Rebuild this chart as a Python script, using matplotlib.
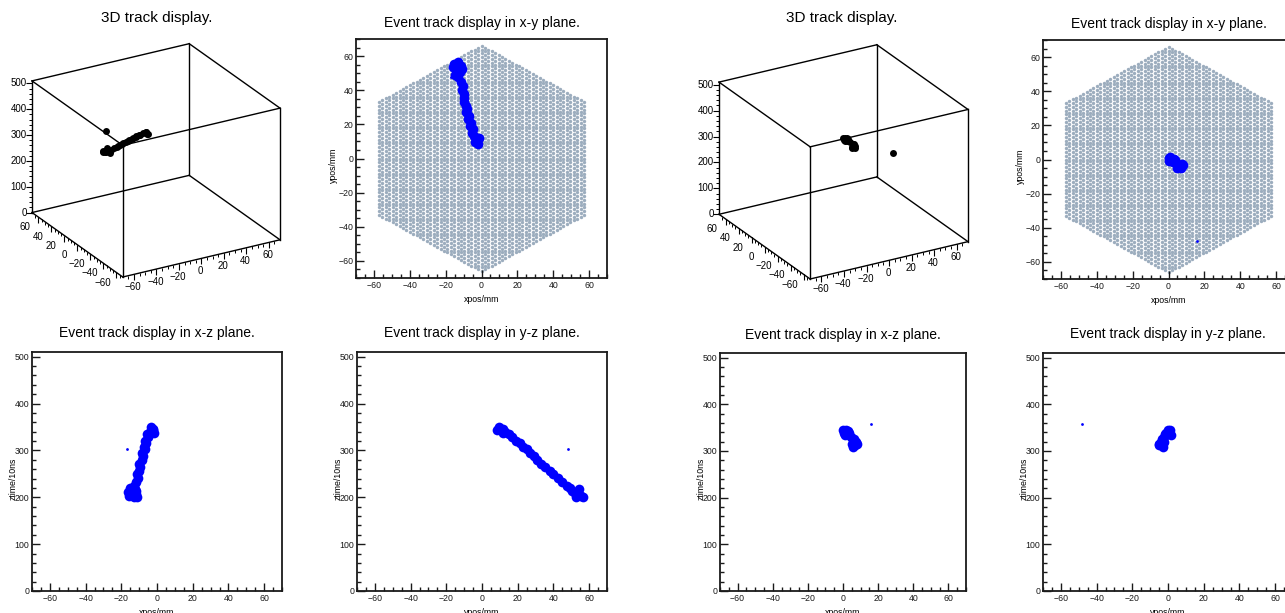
import numpy as np
import matplotlib
matplotlib.use('Agg')
import matplotlib.pyplot as plt
from matplotlib.ticker import MultipleLocator
from mpl_toolkits.mplot3d import proj3d

plt.rcParams['font.family'] = ['Liberation Sans', 'DejaVu Sans']

W, H = 1285, 613

# ---- event 1: hits (x mm, y mm, z time/10ns) ----
ev1_x = [-15.5, -13.0, -11.5, -14.5, -12.0, -15.0, -13.0, -11.0, -16.0, -12.5,
         -11.5, -10.5, -11.0, -10.0, -9.5, -10.0, -8.5, -8.0, -8.5, -7.0,
         -7.5, -6.0, -6.5, -5.0, -5.5, -4.0, -2.5, -3.5, -2.0, -1.5]
ev1_y = [55.5, 56.5, 54.0, 52.0, 50.5, 49.0, 47.5, 52.5, 53.5, 54.5,
         45.0, 42.5, 40.0, 38.0, 35.5, 33.0, 31.0, 29.0, 27.0, 25.0,
         23.0, 21.0, 19.0, 17.0, 15.0, 13.0, 11.5, 9.5, 8.5, 12.0]
ev1_z = [203, 200, 206, 210, 214, 219, 224, 201, 212, 218,
         233, 241, 249, 256, 264, 272, 280, 288, 294, 302,
         308, 315, 321, 328, 334, 340, 346, 350, 344, 338]
ev1_noise_x = [-17.0]
ev1_noise_y = [48.0]
ev1_noise_z = [302]

# ---- event 2 ----
ev2_x = [0.0, 1.5, 3.0, 0.5, 2.5, 1.0, 3.5, 4.5, 6.0, 7.5, 5.0, 7.0, 8.0, 5.5, 6.5]
ev2_y = [1.0, 0.0, 0.5, -1.0, -1.5, 1.5, -0.5, -2.5, -3.5, -2.5, -5.0, -5.0, -3.5, -3.0, -4.0]
ev2_z = [344, 346, 342, 338, 336, 334, 339, 330, 325, 320, 316, 312, 316, 309, 320]
ev2_noise_x = [16.0]
ev2_noise_y = [-48.0]
ev2_noise_z = [358]

# detector geometry (hexagonal pixel plane)
HEX_R = 67.0
PIX_PITCH = 2.2
XLIM = (-70, 70)
ZLIM = (0, 510)

# hexagonal pixel lattice, columns vertical
dx = PIX_PITCH * np.sqrt(3) / 2
pix = []
for i in range(-40, 41):
    for j in range(-40, 41):
        px = i * dx
        py = (j + 0.5 * (i % 2)) * PIX_PITCH
        if abs(px) <= HEX_R * np.cos(np.pi / 6) + 0.1 and abs(py) <= HEX_R - abs(px) * np.tan(np.pi / 6):
            pix.append((px, py))
pix = np.array(pix)

fig = plt.figure(figsize=(W / 100, H / 100), dpi=100)


def px_rect(left, top, right, bottom):
    return [left / W, (H - bottom) / H, (right - left) / W, (bottom - top) / H]


def minus(v):
    return str(v).replace('-', '\u2212')


def frame2d(rect, xlab, ylab, title, zplot, title_off=0.066):
    ax = fig.add_axes(rect)
    ax.set_xlim(*XLIM)
    ax.xaxis.set_major_locator(MultipleLocator(20))
    ax.xaxis.set_minor_locator(MultipleLocator(5))
    if zplot:
        ax.set_ylim(*ZLIM)
        ax.yaxis.set_major_locator(MultipleLocator(100))
        ax.yaxis.set_minor_locator(MultipleLocator(20))
    else:
        ax.set_ylim(*XLIM)
        ax.yaxis.set_major_locator(MultipleLocator(20))
        ax.yaxis.set_minor_locator(MultipleLocator(5))
    ax.tick_params(which='both', direction='in', top=False, right=False,
                   labelsize=6.3, pad=2, width=1.0, colors='#1a1a1a')
    ax.tick_params(which='major', length=5.5)
    ax.tick_params(which='minor', length=3)
    for s in ax.spines.values():
        s.set_linewidth(1.3)
        s.set_color('#1a1a1a')
    ax.set_xlabel(xlab, fontsize=6.3)
    ax.set_ylabel(ylab, fontsize=6.3)
    ax.xaxis.set_label_coords(0.5, -0.07)
    ax.yaxis.set_label_coords(-0.072 if not zplot else -0.058, 0.47)
    ax.text(0.5, 1 + title_off, title, transform=ax.transAxes,
            ha='center', va='center', fontsize=10)
    return ax


def plane(ax, a, b, na, nb, show_pixels):
    if show_pixels:
        ax.scatter(pix[:, 0], pix[:, 1], s=6, color='#9cadbe', linewidths=0)
    ax.plot(a, b, 'o', color='#0000ff', ms=7, mew=0)
    ax.plot(na, nb, 'o', color='#0000ff', ms=2, mew=0)


ELEV, AZIM, Z_ASPECT = 24.2, -120, 0.795


def draw3d(cx, cy, left_x, right_x, front_y, xs, ys, zs):
    side = 320
    ax = fig.add_axes(px_rect(cx - side / 2, cy - side / 2, cx + side / 2, cy + side / 2),
                      projection='3d', computed_zorder=False)
    ax.set_proj_type('ortho')
    ax.view_init(elev=ELEV, azim=AZIM)
    ax.set_box_aspect((1, 1, Z_ASPECT))
    ax.set_xlim(*XLIM)
    ax.set_ylim(*XLIM)
    ax.set_zlim(*ZLIM)
    ax.set_axis_off()
    ax.set_facecolor('none')
    x0, x1 = XLIM
    z0, z1 = ZLIM
    corners = [(x, y, z) for x in (x0, x1) for y in (x0, x1) for z in (z0, z1)]
    for p in corners:
        for q in corners:
            if p < q and sum(a != b for a, b in zip(p, q)) == 1:
                ax.plot(*zip(p, q), color='k', lw=1.0)
    # z axis on the left vertical edge
    zmaj = np.arange(0, 501, 100)
    zmin = np.arange(0, 511, 20)
    ax.plot([x0] * len(zmin), [x1] * len(zmin), zmin, ls='none', marker=0, ms=2.2, mew=0.7, color='k')
    ax.plot([x0] * len(zmaj), [x1] * len(zmaj), zmaj, ls='none', marker=0, ms=4.5, mew=0.8, color='k')
    for z in zmaj:
        ax.text(x0 - 3.5, x1 + 2, z, str(z), ha='right', va='center', fontsize=7)
    # x and y axes on the lower front edges
    tmaj = np.arange(-60, 61, 20)
    tmin = np.arange(-65, 66, 5)
    ax.plot([x0] * len(tmin), tmin, [z0] * len(tmin), ls='none', marker=3, ms=2.2, mew=0.7, color='k')
    ax.plot([x0] * len(tmaj), tmaj, [z0] * len(tmaj), ls='none', marker=3, ms=4.5, mew=0.8, color='k')
    ax.plot(tmin, [x0] * len(tmin), [z0] * len(tmin), ls='none', marker=3, ms=2.2, mew=0.7, color='k')
    ax.plot(tmaj, [x0] * len(tmaj), [z0] * len(tmaj), ls='none', marker=3, ms=4.5, mew=0.8, color='k')
    for t in tmaj:
        ax.text(x0 - 12, t, z0 - 27, minus(t), ha='center', va='center', fontsize=7)
        ax.text(t - 3, x0 - 4, z0 - 40, minus(t), ha='center', va='center', fontsize=7)
    ax.plot(xs, ys, zs, 'o', color='k', ms=5, mew=0)

    # place the projected box where it sits in the picture
    for _ in range(2):
        fig.canvas.draw()
        px_, py_, _ = proj3d.proj_transform(np.array([x0, x1, x0]), np.array([x1, x0, x0]),
                                            np.array([z0, z0, z0]), ax.M)
        pts = ax.transData.transform(np.column_stack([px_, py_]))
        s = (right_x - left_x) / (pts[1, 0] - pts[0, 0])
        bb = ax.get_position()
        cxf = (bb.x0 + bb.width / 2) * W
        cyf = (bb.y0 + bb.height / 2) * H
        ax_new = cxf + s * (pts[0, 0] - cxf)
        fy_new = cyf + s * (pts[2, 1] - cyf)
        cxf += left_x - ax_new
        cyf += (H - front_y) - fy_new
        w = bb.width * W * s
        h = bb.height * H * s
        ax.set_position([(cxf - w / 2) / W, (cyf - h / 2) / H, w / W, h / H])
    return ax


# ---- event 1 ----
draw3d(157, 160, 32, 280, 277,
       ev1_x + ev1_noise_x, ev1_y + ev1_noise_y, ev1_z + ev1_noise_z)
fig.text(157 / W, 1 - 18 / H, '3D track display.', ha='center', va='center', fontsize=11)

ax = frame2d(px_rect(356, 39, 607, 278), 'xpos/mm', 'ypos/mm', 'Event track display in x-y plane.', False)
plane(ax, ev1_x, ev1_y, ev1_noise_x, ev1_noise_y, True)

ax = frame2d(px_rect(32, 352, 282, 591), 'xpos/mm', 'ztime/10ns', 'Event track display in x-z plane.', True, 0.078)
plane(ax, ev1_x, ev1_z, ev1_noise_x, ev1_noise_z, False)

ax = frame2d(px_rect(357, 352, 607, 591), 'ypos/mm', 'ztime/10ns', 'Event track display in y-z plane.', True, 0.078)
plane(ax, ev1_y, ev1_z, ev1_noise_y, ev1_noise_z, False)

# ---- event 2 ----
draw3d(844, 160, 719, 968, 279,
       ev2_x + ev2_noise_x, ev2_y + ev2_noise_y, ev2_z + ev2_noise_z)
fig.text(842 / W, 1 - 18 / H, '3D track display.', ha='center', va='center', fontsize=11)

ax = frame2d(px_rect(1043, 40, 1294, 279), 'xpos/mm', 'ypos/mm', 'Event track display in x-y plane.', False)
plane(ax, ev2_x, ev2_y, ev2_noise_x, ev2_noise_y, True)

ax = frame2d(px_rect(720, 353, 966, 591), 'xpos/mm', 'ztime/10ns', 'Event track display in x-z plane.', True, 0.076)
plane(ax, ev2_x, ev2_z, ev2_noise_x, ev2_noise_z, False)

ax = frame2d(px_rect(1043, 353, 1293, 591), 'ypos/mm', 'ztime/10ns', 'Event track display in y-z plane.', True, 0.078)
plane(ax, ev2_y, ev2_z, ev2_noise_y, ev2_noise_z, False)

fig.savefig('out.png', dpi=100)
